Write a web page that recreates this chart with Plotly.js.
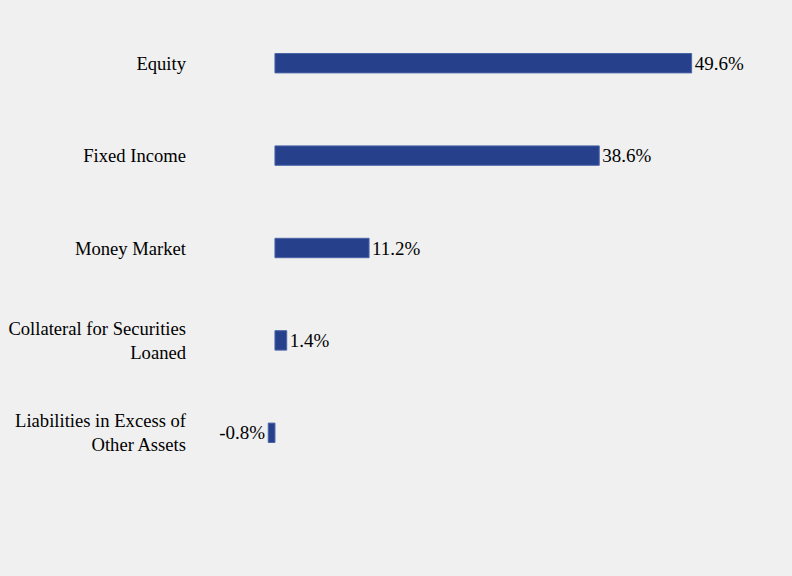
<!DOCTYPE html>
<html>
<head>
<meta charset="utf-8">
<script src="https://cdn.plot.ly/plotly-3.0.1.min.js"></script>
<style>
  html, body { margin: 0; padding: 0; background: #F0F0F0; }
  #chart { width: 792px; height: 576px; }
</style>
</head>
<body>
<div id="chart"></div>
<script>
// Asset allocation, percent of net assets
const categories = [
    'Equity',
    'Fixed Income',
    'Money Market',
    'Collateral for Securities<br>Loaned',
    'Liabilities in Excess of<br>Other Assets'
];
const values = [49.6, 38.6, 11.2, 1.4, -0.8];
const valueLabels = ['49.6%', '38.6%', '11.2%', '1.4%', '-0.8%'];

const barColor = '#27408B';
const serif = 'Liberation Serif, Times New Roman, serif';

const data = [{
    type: 'bar',
    orientation: 'h',
    y: categories,
    x: values,
    text: valueLabels,
    textposition: 'outside',
    constraintext: 'none',
    cliponaxis: false,
    textfont: {family: serif, size: 19, color: '#000'},
    marker: {color: barColor, line: {color: '#4A64A8', width: 1}},
    hoverinfo: 'none'
}];

const layout = {
    width: 792,
    height: 576,
    paper_bgcolor: '#F0F0F0',
    plot_bgcolor: '#F0F0F0',
    margin: {l: 197, r: 13, t: 17, b: 97},
    showlegend: false,
    bargap: 0.79,
    font: {family: serif, size: 18.6, color: '#000'},
    xaxis: {
        range: [-9.28, 60],
        visible: false,
        showgrid: false,
        zeroline: false
    },
    yaxis: {
        autorange: 'reversed',
        showgrid: false,
        zeroline: false,
        showline: false,
        ticks: '',
        ticklabelstandoff: 10,
        tickfont: {family: serif, size: 18.6, color: '#000'}
    }
};

Plotly.newPlot('chart', data, layout, {displayModeBar: false, staticPlot: true});
</script>
</body>
</html>
